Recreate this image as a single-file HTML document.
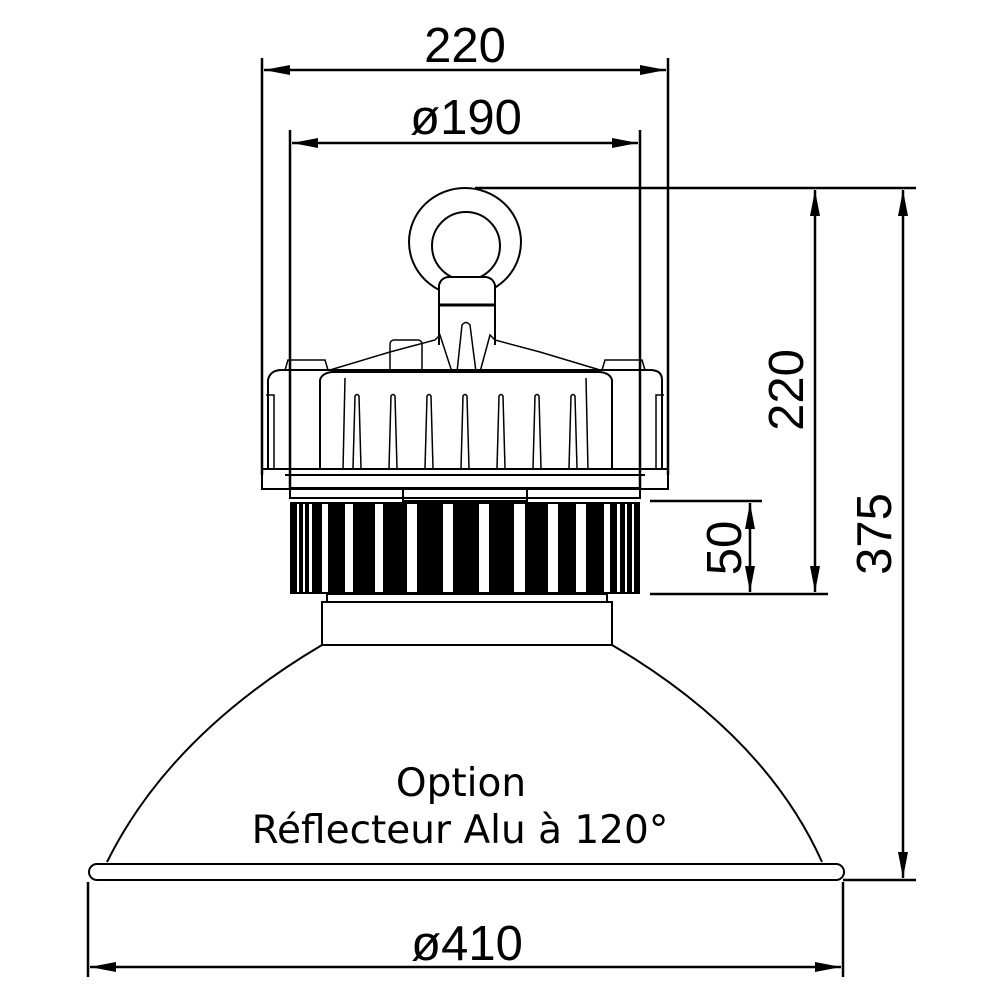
<!DOCTYPE html>
<html><head><meta charset="utf-8"><style>
html,body{margin:0;padding:0;background:#fff;width:1000px;height:1000px;overflow:hidden}
svg{display:block}
.t{font-family:"Liberation Sans",sans-serif;fill:#000}
.d{font-family:"DejaVu Sans","Liberation Sans",sans-serif;fill:#000}
</style></head><body>
<svg width="1000" height="1000" viewBox="0 0 1000 1000" xmlns="http://www.w3.org/2000/svg">
<defs>
<marker id="a" viewBox="0 0 26 10" refX="26" refY="5" markerWidth="26" markerHeight="10" markerUnits="userSpaceOnUse" orient="auto-start-reverse"><path d="M0,0 L26,5 L0,10 Z" fill="#000"/></marker>
</defs>
<g stroke="#000" fill="none">
<line x1="262" y1="58" x2="262" y2="475" stroke-width="2.5"/>
<line x1="668" y1="58" x2="668" y2="475" stroke-width="2.5"/>
<line x1="264" y1="70" x2="666" y2="70" stroke-width="2.5" marker-start="url(#a)" marker-end="url(#a)"/>
<line x1="290" y1="130" x2="290" y2="490" stroke-width="2.5"/>
<line x1="640" y1="130" x2="640" y2="490" stroke-width="2.5"/>
<line x1="292" y1="143" x2="638" y2="143" stroke-width="2.5" marker-start="url(#a)" marker-end="url(#a)"/>
<line x1="475" y1="188" x2="916" y2="188" stroke-width="2.5"/>
<line x1="815" y1="190" x2="815" y2="592" stroke-width="2.5" marker-start="url(#a)" marker-end="url(#a)"/>
<line x1="903" y1="190" x2="903" y2="878" stroke-width="2.5" marker-start="url(#a)" marker-end="url(#a)"/>
<line x1="650" y1="501" x2="762" y2="501" stroke-width="2.5"/>
<line x1="650" y1="594" x2="828" y2="594" stroke-width="2.5"/>
<line x1="750" y1="503" x2="750" y2="592" stroke-width="2.5" marker-start="url(#a)" marker-end="url(#a)"/>
<line x1="843" y1="880" x2="916" y2="880" stroke-width="2.5"/>
<line x1="88" y1="882" x2="88" y2="977" stroke-width="2.5"/>
<line x1="843" y1="882" x2="843" y2="977" stroke-width="2.5"/>
<line x1="90" y1="967" x2="841" y2="967" stroke-width="2.5" marker-start="url(#a)" marker-end="url(#a)"/>

<ellipse cx="465" cy="242" rx="56" ry="54" stroke-width="2"/>
<circle cx="466" cy="246" r="34" stroke-width="2"/>
<path d="M439,345 L439,285 Q441,278 448,277 L486,277 Q493,278 495,285 L495,345" fill="#fff" stroke-width="2"/>
<line x1="439" y1="305" x2="495" y2="305" stroke-width="3"/>
<path d="M330,370 L390,352 L435,340 L440,335 L452,372" stroke-width="1.5"/>
<path d="M600,370 L540,352 L495,340 L490,335 L480,372" stroke-width="1.5"/>
<path d="M457,372 L462,325 Q466,320 470,325 L476,372" stroke-width="1.5"/>
<rect x="390" y="340" width="32" height="32" rx="4" stroke-width="1.5"/>
<path d="M268,470 L268,380 Q270,370 282,370 L650,370 Q662,370 662,380 L662,470" stroke-width="2"/>
<path d="M285,370 L288,360 L325,360 L328,370 M602,370 L605,360 L642,360 L645,370" stroke-width="1.5"/>
<path d="M320,470 L320,380 Q322,373 332,372 L600,372 Q610,373 612,380 L612,470" stroke-width="2"/>
<path d="M343,470 L345,378 M588,470 L586,378" stroke-width="1.5"/>
<g stroke-width="1.5">
<path d="M353,468 L355,396 Q357,393 359,396 L361,468"/>
<path d="M389,468 L391,396 Q393,393 395,396 L397,468"/>
<path d="M425,468 L427,396 Q429,393 431,396 L433,468"/>
<path d="M461,468 L463,396 Q465,393 467,396 L469,468"/>
<path d="M497,468 L499,396 Q501,393 503,396 L505,468"/>
<path d="M533,468 L535,396 Q537,393 539,396 L541,468"/>
<path d="M569,468 L571,396 Q573,393 575,396 L577,468"/>
</g>
<path d="M266,395 L274,395 L274,468 M664,395 L656,395 L656,468" stroke-width="1.5"/>
<rect x="262" y="469" width="406" height="20" stroke-width="2"/>
<line x1="285" y1="475" x2="645" y2="475" stroke-width="2"/>
<rect x="290" y="488" width="350" height="10" stroke-width="2"/>
<rect x="403" y="488" width="124" height="13" stroke-width="2"/>
</g>
<rect x="290" y="502" width="350" height="92" fill="#000"/>
<g fill="#fff">
<rect x="297" y="504" width="2" height="88"/><rect x="303" y="504" width="2" height="88"/><rect x="309" y="504" width="3" height="88"/>
<rect x="322" y="504" width="6" height="88"/><rect x="345" y="504" width="8" height="88"/><rect x="375" y="504" width="8" height="88"/>
<rect x="407" y="504" width="10" height="88"/><rect x="443" y="504" width="10" height="88"/><rect x="479" y="504" width="10" height="88"/>
<rect x="514" y="504" width="11" height="88"/><rect x="548" y="504" width="10" height="88"/><rect x="576" y="504" width="10" height="88"/>
<rect x="604" y="504" width="6" height="88"/><rect x="617" y="504" width="3" height="88"/><rect x="625" y="504" width="2" height="88"/><rect x="632" y="504" width="2" height="88"/>
</g>
<g stroke="#000" fill="none" stroke-width="2">
<rect x="327" y="594" width="280" height="8"/>
<rect x="322" y="602" width="290" height="43"/>
<path d="M322,645 Q170,735 107,862"/>
<path d="M612,645 Q765,735 822,862"/>
<path d="M97,864 L836,864 A8,8 0 0 1 836,880 L97,880 A8,8 0 0 1 97,864 Z"/>
</g>
<g class="t" font-size="49" text-anchor="middle">
<text x="465" y="62">220</text>
<text x="466" y="134">ø190</text>
<text x="467" y="960">ø410</text>
<text transform="translate(803 390) rotate(-90)">220</text>
<text transform="translate(891 534) rotate(-90)">375</text>
<text transform="translate(741 548) rotate(-90)">50</text>
</g>
<g class="d" font-size="39" text-anchor="middle">
<text x="461" y="796">Option</text>
<text x="460" y="843">Réflecteur Alu à 120°</text>
</g>
</svg>
</body></html>
